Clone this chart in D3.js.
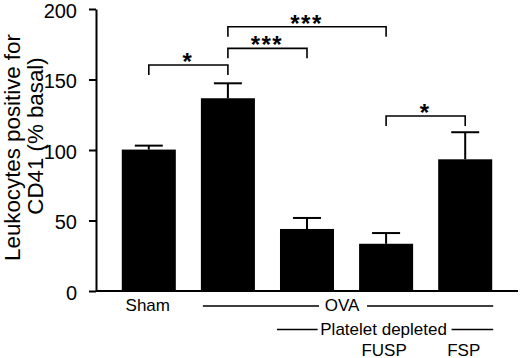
<!DOCTYPE html>
<html>
<head>
<meta charset="utf-8">
<script src="https://cdn.jsdelivr.net/npm/d3@7"></script>
<style>
  body { margin: 0; background: #fff; }
  text { font-family: "Liberation Sans", Arial, sans-serif; fill: #000; }
</style>
</head>
<body>
<div id="chart"></div>
<script>
var groups = ["Sham", "OVA", "OVA PD", "OVA PD FUSP", "OVA PD FSP"];
var means = [100.3, 136.7, 44, 33.5, 93.4];
var sems = [2.8, 10.6, 7.8, 7.6, 19.2];
var yTicks = [0, 50, 100, 150, 200];

// significance brackets: [from bar, to bar, height (% basal), stars]
var sigFrom = [0, 1, 1, 3];
var sigTo = [1, 3, 2, 4];
var sigY = [160.3, 187.4, 172.1, 124.1];
var sigText = ["*", "***", "***", "*"];

var width = 520, height = 358;

var svg = d3.select("#chart").append("svg")
    .attr("width", width)
    .attr("height", height);

var xScale = d3.scaleBand()
    .domain(groups)
    .range([96, 518])
    .paddingInner(0.317)
    .paddingOuter(0.326);

var yScale = d3.scaleLinear().domain([0, 200]).range([291, 9]);

function cx(i) { return xScale(groups[i]) + xScale.bandwidth() / 2; }

// bars
svg.selectAll(".bar")
    .data(means)
    .enter().append("rect")
    .attr("x", function(d, i) { return xScale(groups[i]); })
    .attr("y", function(d) { return yScale(d); })
    .attr("width", xScale.bandwidth())
    .attr("height", function(d) { return yScale(0) - yScale(d); })
    .attr("fill", "#000");

// error bars (upper half only)
var err = svg.append("g").attr("stroke", "#000").attr("stroke-width", 2);
means.forEach(function(m, i) {
    err.append("line")
        .attr("x1", cx(i)).attr("x2", cx(i))
        .attr("y1", yScale(m)).attr("y2", yScale(m + sems[i]));
    err.append("line")
        .attr("x1", cx(i) - 14).attr("x2", cx(i) + 14)
        .attr("y1", yScale(m + sems[i])).attr("y2", yScale(m + sems[i]));
});

// y axis
var yAxis = svg.append("g")
    .attr("transform", "translate(96,0)")
    .call(d3.axisLeft(yScale).tickValues(yTicks).tickSize(7).tickSizeOuter(0).tickPadding(12));
yAxis.selectAll("path, line").attr("stroke", "#000").attr("stroke-width", 2);
yAxis.selectAll("text")
    .attr("font-size", "20px")
    .attr("dy", "0.42em")
    .attr("font-family", "Liberation Sans, Arial, sans-serif");

// x baseline
svg.append("line")
    .attr("x1", xScale.range()[0]).attr("x2", xScale.range()[1])
    .attr("y1", yScale(0)).attr("y2", yScale(0))
    .attr("stroke", "#000").attr("stroke-width", 2);

// y label
svg.append("text")
    .attr("transform", "translate(19.5,147.5) rotate(-90)")
    .attr("text-anchor", "middle")
    .attr("font-size", "22.3px")
    .text("Leukocytes positive for");
svg.append("text")
    .attr("transform", "translate(42.5,136) rotate(-90)")
    .attr("text-anchor", "middle")
    .attr("font-size", "22.3px")
    .text("CD41 (% basal)");

// significance brackets
var sig = svg.append("g");
sigY.forEach(function(v, k) {
    var x1 = cx(sigFrom[k]), x2 = cx(sigTo[k]), y = yScale(v);
    sig.append("path")
        .attr("d", "M" + x1 + "," + (y + 10) + "V" + y + "H" + x2 + "V" + (y + 10))
        .attr("fill", "none")
        .attr("stroke", "#000")
        .attr("stroke-width", 1.6);
    sig.append("text")
        .attr("x", (x1 + x2) / 2 - 0.5)
        .attr("y", y + 5)
        .attr("text-anchor", "middle")
        .attr("font-size", "24px")
        .attr("font-weight", "bold")
        .attr("letter-spacing", "1.5px")
        .text(sigText[k]);
});

// group labels under the axis
var lab = svg.append("g").attr("font-size", "17px");
lab.append("text").attr("x", cx(0) - 1).attr("y", 311).attr("text-anchor", "middle").text("Sham");

var ovaL = xScale(groups[1]) + 2, ovaR = xScale(groups[4]) + xScale.bandwidth() + 1;
var ovaMid = (ovaL + ovaR) / 2 - 6;
lab.append("text").attr("x", ovaMid).attr("y", 311).attr("text-anchor", "middle").text("OVA");
lab.append("line").attr("x1", ovaL).attr("x2", ovaMid - 23).attr("y1", 306).attr("y2", 306)
    .attr("stroke", "#000").attr("stroke-width", 1.5);
lab.append("line").attr("x1", ovaMid + 25).attr("x2", ovaR).attr("y1", 306).attr("y2", 306)
    .attr("stroke", "#000").attr("stroke-width", 1.5);

var pdL = xScale(groups[2]) - 3, pdR = ovaR;
var pdMid = (pdL + pdR) / 2 - 1.5;
lab.append("text").attr("x", pdMid).attr("y", 334.5).attr("text-anchor", "middle").text("Platelet depleted");
lab.append("line").attr("x1", pdL).attr("x2", pdMid - 66).attr("y1", 329.5).attr("y2", 329.5)
    .attr("stroke", "#000").attr("stroke-width", 1.5);
lab.append("line").attr("x1", pdMid + 68).attr("x2", pdR).attr("y1", 329.5).attr("y2", 329.5)
    .attr("stroke", "#000").attr("stroke-width", 1.5);

lab.append("text").attr("x", cx(3) - 2).attr("y", 355.5).attr("text-anchor", "middle").text("FUSP");
lab.append("text").attr("x", cx(4) - 1.5).attr("y", 355.5).attr("text-anchor", "middle").text("FSP");
</script>
</body>
</html>
